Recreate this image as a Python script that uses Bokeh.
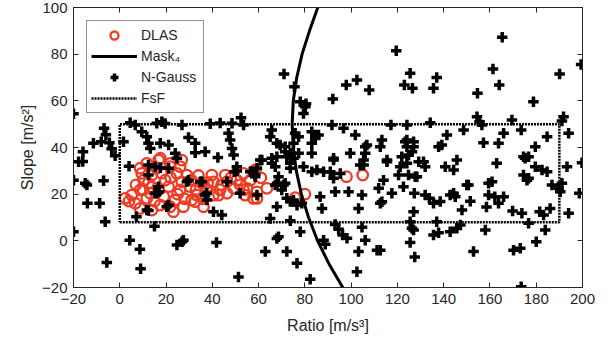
from bokeh.plotting import figure
from bokeh.models import Range1d, LinearAxis, Legend, LegendItem, FixedTicker
from bokeh.embed import file_html
from bokeh.resources import INLINE

# ---------------- data ----------------
ngauss_ratio = [
    -20, -17.8, -15.9, -16.0, -11.4, -8.0, -6.8, -6.0, -4.5, -3.5, -2.0, 1.6,
    -20, -14.9, -14.2, -7.0, -14.0, -8.7, -6.3, -20, -5.6, 4.3, 8.7, 9.0, 15.0, 7.2,
    4.5, 6.7, 16.0, 18.2, 19.6, 26.9, 39.1, 43.4, 48.5, 52.4, 53.5,
    9.5, 11.7, 12.4, 13.2, 17.5, 21.1, 24.0, 24.7, 29.7, 32.6, 32.6, 36.9, 42.4,
    47.0, 47.7, 48.5, 49.2, 50.6, 49.5, 56.4, 59.3, 60.7, 4.0, 12.4, 15.3, 17.5,
    21.1, 12.4, 29.7, 35.5, 16.7,
    65.7, 65.0, 67.9, 69.3, 71.5, 71.5, 72.2, 73.7, 75.1, 75.8, 77.3, 75.1, 77.3,
    73.7, 73.7, 65.7, 67.9, 65.7, 67.2, 61.4, 68.6, 70.8, 67.2, 58.5, 68.0, 70.0,
    71.5, 73.7, 76.6, 78.7, 72.2, 75.1, 67.9, 65.0, 73.7, 78.0, 68.6, 67.9, 62.9,
    72.2, 76.6, 82.3, 29.0, 34.8, 16.0, 17.0, 11.7, 12.4, 20.3, 21.1, 37.7, 36.9,
    37.6, 40.5, 44.1, 46.3, 52.0, 50.6, 59.3, 58.5, 15.3, 24.7, 26.9, 27.5, 41.8,
    51.3,
    78.0, 80.2, 79.4, 80.5, 71.0, 75.5, 92.1, 97.9, 102.5, 107.8, 119.5, 125.5,
    123.0, 126.5, 137.0, 135.6, 165.3, 161.3, 164.0, 154.6, 190.1, 199.4, 178.8,
    83.0, 84.5, 85.9, 83.0, 84.5, 83.0, 79.4, 83.0, 85.2, 88.1, 91.0, 92.4, 92.4,
    95.3, 91.7, 96.7, 101.8, 99.6, 105.4, 106.8, 106.1, 103.9, 113.3, 112.6,
    115.5, 117.2, 124.1, 124.1, 124.1, 121.2, 92.4, 105.4, 106.1, 115.5, 123.4,
    121.9, 124.8, 127.0, 129.2, 132.0, 124.1, 134.2, 137.8, 141.4, 139.2, 145.7,
    148.6, 157.2, 163.7, 165.9, 162.9, 154.4, 155.5, 169.5, 173.5, 174.5, 176.7,
    179.6, 184.7, 191.1, 191.8, 194.0, 193.3, 199.8, 127.0, 126.3, 128.4, 131.3,
    140.7, 144.3, 150.0, 159.4, 175.2, 179.6, 182.5, 184.7, 176.7, 186.8, 156.5,
    86.6, 87.4, 88.1, 88.8, 93.1, 94.6, 96.3, 98.2, 93.1, 98.9, 104.7, 103.2,
    104.7, 106.1, 103.2, 102.5, 111.2, 112.6, 112.6, 113.3, 117.6, 125.5, 126.3,
    125.5, 127.5, 114.0, 111.9, 120.5, 122.6, 124.8, 127.7, 127.3, 127.0, 132.0,
    133.8, 135.6, 138.5, 137.0, 135.6, 137.8, 142.8, 144.3, 145.0, 145.7, 147.2,
    147.9, 150.7, 151.5, 152.9, 158.0, 158.5, 159.4, 160.9, 162.1, 163.7, 165.9,
    169.8, 170.2, 173.1, 173.5, 174.5, 176.0, 173.8, 176.7, 180.0, 181.5, 183.2,
    183.9, 186.0, 189.7, 191.1, 190.4, 194.0, 198.6, 142.8, 127.0,
]
ngauss_slope = [
    54.5, 33.9, 38.2, 34.0, 41.8, 42.5, 48.3, 45.5, 42.0, 39.5, 36.5, 42.5,
    26.0, 24.7, 23.9, 25.7, 16.1, 16.1, 8.2, 3.9, -9.3, 0.3, -3.6, -12.0, 6.2, 10.3,
    50.6, 49.6, 50.4, 51.0, 50.3, 49.6, 50.2, 50.5, 50.4, 52.8, 49.6,
    46.8, 44.6, 41.8, 39.6, 41.8, 41.1, 37.5, 35.4, 44.3, 41.8, 37.8, 38.2, 35.7,
    46.1, 43.2, 39.6, 36.8, 31.8, 29.6, 29.6, 31.1, 34.6, 32.0, 32.5, 31.8, 31.3,
    31.1, 28.2, 26.0, 25.3, 23.2,
    47.5, 44.6, 41.8, 41.1, 40.3, 38.2, 36.0, 37.5, 35.4, 46.1, 44.6, 41.8, 37.5,
    33.2, 31.1, 35.4, 36.0, 33.2, 31.8, 34.6, 27.5, 23.9, 23.9, 28.2, 24.7, 21.8,
    24.7, 16.9, 15.3, 16.1, 18.2, 17.5, 14.6, 9.6, 8.6, 3.9, 1.8, 1.0, -4.6,
    -4.6, -9.6, -16.5, 25.3, 25.3, 20.4, 21.0, 13.2, 13.0, 14.6, 15.3, 17.5, 19.6,
    20.4, 12.5, 11.1, 25.3, 20.4, 29.9, 19.6, 27.5, 20.4, -1.8, -0.4, 0.3, -0.7,
    -15.5,
    59.6, 57.5, 54.6, 58.8, 71.5, 66.0, 60.8, 66.8, 68.9, 64.6, 81.5, 71.8,
    66.8, 65.4, 70.0, 65.4, 87.2, 73.6, 66.8, 63.2, 71.5, 75.6, 59.6,
    46.8, 45.4, 45.4, 41.8, 44.0, 37.5, 31.8, 29.6, 30.4, 29.6, 29.6, 34.6, 26.8,
    28.9, 49.6, 48.2, 45.4, 37.5, 34.6, 41.1, 37.5, 32.5, 43.2, 40.3,
    34.6, 49.6, 43.2, 40.3, 33.2, 31.8, 35.4, 32.5, 40.3, 33.9, 42.5,
    36.0, 36.8, 40.3, 33.9, 31.8, 49.6, 50.6, 40.3, 45.4, 41.1, 34.6,
    47.5, 42.0, 41.8, 46.1, 33.2, 53.2, 51.0, 51.8, 47.5, 36.0, 36.0,
    40.3, 44.6, 51.4, 53.2, 46.1, 31.8, 33.5, 42.5, 38.2, 27.5, 33.9,
    31.8, 30.4, 23.9, 24.7, 35.4, 31.8, 30.4, 29.6, 26.8, 23.9, 49.6,
    18.9, 13.9, 0.3, -1.5, 7.0, 5.0, 2.5, 1.1, 21.0, 21.0, 19.6, 13.9,
    5.8, 0.3, -4.6, -13.2, -4.0, -4.0, 16.1, 16.8, 20.4, 8.2, 5.4,
    -0.7, -6.9, 26.0, 22.5, 28.2, 23.2, 28.2, 27.5, 20.4, 12.5, 19.6,
    18.2, 16.1, 16.9, 8.2, 2.5, 3.5, 3.9, 20.4, 18.9, 5.4, 6.8,
    13.2, 23.9, 17.0, -4.6, 4.6, 14.5, 19.6, 25.3, 18.9, 16.1, 18.9,
    12.8, -4.0, -3.2, -19.7, 28.2, 26.0, 11.8, 7.5, -0.4, 12.5, 11.1,
    4.6, 13.9, 22.5, 24.7, 21.0, 11.8, 20.4, 19.6, 4.6,
]

dlas_ratio = [
    17.5, 11.7, 9.5, 2.3, 5.2, 6.7, 8.8, 12.4, 13.9, 16.0, 21.8, 24.7, 19.6, 16.8,
    11.7, 8.8, 13.9, 17.5, 21.8, 23.9, 26.1, 26.8, 30.4, 31.1, 33.3, 35.5, 37.6,
    40.5, 43.4, 46.3, 49.2, 50.6, 53.5, 56.4, 58.6, 59.3, 63.6, 53.5, 42.7, 27.5,
    29.0, 21.1, 13.2, 10.3, 16.8, 8.8, 23.2, 32.6, 36.2, 40.5, 46.3, 39.8, 45.6,
    57.8, 26.8, 26.1, 21.8, 4.0, 7.0, 15.0, 19.0, 25.0, 28.0, 31.0, 34.0, 38.0,
    44.0, 48.0, 52.0, 55.0, 54.2, 59.3, 58.5, 61.0, 75.8, 80.0, 98.0, 105.0,
    33.0, 36.0, 22.0, 18.0, 14.0, 10.0,
]
dlas_slope = [
    35.4, 33.2, 28.9, 18.2, 19.6, 16.1, 21.8, 24.7, 28.2, 31.1, 31.8, 28.9, 26.0,
    21.8, 18.2, 13.9, 13.2, 15.3, 14.6, 17.5, 21.8, 25.3, 23.2, 17.5, 19.6, 24.7,
    21.8, 25.3, 21.8, 25.3, 22.5, 26.0, 28.9, 26.0, 30.4, 21.0, 22.5, 21.8, 19.6,
    14.6, 28.2, 23.2, 20.4, 26.0, 34.6, 31.1, 12.5, 16.8, 14.6, 19.6, 20.4, 28.2,
    28.2, 18.2, 34.6, 31.8, 33.2, 17.0, 24.0, 17.0, 19.0, 20.0, 18.0, 26.0, 28.0,
    25.0, 24.0, 27.0, 24.0, 22.5, 19.6, 18.2, 29.6, 27.0, 18.5, 20.0, 27.5, 28.2,
    22.0, 18.0, 27.0, 29.0, 23.0, 22.0,
]

mask_slope = [100, 90, 80, 70, 60, 50, 40, 30, 20, 10, 0, -10, -20]
mask_ratio = [85.6, 82.0, 78.8, 76.5, 75.0, 74.5, 75.0, 76.3, 78.5, 81.6, 85.5, 90.5, 96.4]

fsf_ratio_min, fsf_ratio_max = 0, 190
fsf_slope_min, fsf_slope_max = 8, 50

x_ticks = [-20, 0, 20, 40, 60, 80, 100, 120, 140, 160, 180, 200]
y_ticks = [-20, 0, 20, 40, 60, 80, 100]

# ---------------- figure ----------------
FONT = "Liberation Sans"
AX = "#262626"

p = figure(width=610, height=347, output_backend="svg", toolbar_location=None,
           x_range=Range1d(-20, 200), y_range=Range1d(-20, 100),
           min_border_left=73, min_border_right=28, min_border_top=7,
           min_border_bottom=60)
p.grid.visible = False
p.outline_line_color = AX
p.outline_line_width = 1
p.background_fill_color = "white"
p.border_fill_color = "white"

for ax, ticks in ((p.xaxis[0], x_ticks), (p.yaxis[0], y_ticks)):
    ax.ticker = FixedTicker(ticks=ticks)
    ax.major_tick_in = 5
    ax.major_tick_out = 0
    ax.minor_tick_line_color = None
    ax.axis_line_color = AX
    ax.major_tick_line_color = AX
    ax.major_label_text_font = FONT
    ax.major_label_text_font_size = "15px"
    ax.major_label_text_color = AX
    ax.axis_label_text_font = FONT
    ax.axis_label_text_font_size = "16px"
    ax.axis_label_text_font_style = "normal"
    ax.axis_label_text_color = AX

p.xaxis.axis_label = "Ratio [m/s³]"
p.yaxis.axis_label = "Slope [m/s²]"
p.xaxis.major_label_standoff = 6
p.yaxis.major_label_standoff = 6
p.xaxis.axis_label_standoff = 10
p.yaxis.axis_label_standoff = 3

# box-style frame: inward ticks on the top and right edges too
top = LinearAxis(ticker=FixedTicker(ticks=x_ticks), major_tick_in=5, major_tick_out=0,
                 minor_tick_line_color=None, major_label_text_font_size="0px",
                 major_label_standoff=0, axis_line_color=AX, major_tick_line_color=AX)
right = LinearAxis(ticker=FixedTicker(ticks=y_ticks), major_tick_in=5, major_tick_out=0,
                   minor_tick_line_color=None, major_label_text_font_size="0px",
                   major_label_standoff=0, axis_line_color=AX, major_tick_line_color=AX)
p.add_layout(top, "above")
p.add_layout(right, "right")

r_dlas = p.scatter(dlas_ratio, dlas_slope, marker="circle", size=10.5,
                   fill_color=None, line_color="#EE3B24", line_width=2.3)
r_mask = p.line(mask_ratio, mask_slope, line_color="black", line_width=3)
r_ng = p.scatter(ngauss_ratio, ngauss_slope, marker="cross", size=10.5,
                 line_color="black", line_width=3.5)
fsf_x = [fsf_ratio_min, fsf_ratio_max, fsf_ratio_max, fsf_ratio_min, fsf_ratio_min]
fsf_y = [fsf_slope_min, fsf_slope_min, fsf_slope_max, fsf_slope_max, fsf_slope_min]
r_fsf = p.line(fsf_x, fsf_y, line_color="black", line_width=2.5, line_dash="2 1")

legend = Legend(items=[
    LegendItem(label="DLAS", renderers=[r_dlas]),
    LegendItem(label="Mask₄", renderers=[r_mask]),
    LegendItem(label="N-Gauss", renderers=[r_ng]),
    LegendItem(label="FsF", renderers=[r_fsf]),
], location="top_left")
legend.margin = 13
legend.padding = 4
legend.spacing = 1
legend.glyph_width = 46
legend.glyph_height = 20
legend.label_height = 20
legend.label_width = 58
legend.label_standoff = 4
legend.label_text_font = FONT
legend.label_text_font_size = "14px"
legend.label_text_color = AX
legend.border_line_color = AX
legend.border_line_width = 1
legend.background_fill_alpha = 1
p.add_layout(legend, "center")

open("out.html", "w").write(file_html(p, INLINE))
